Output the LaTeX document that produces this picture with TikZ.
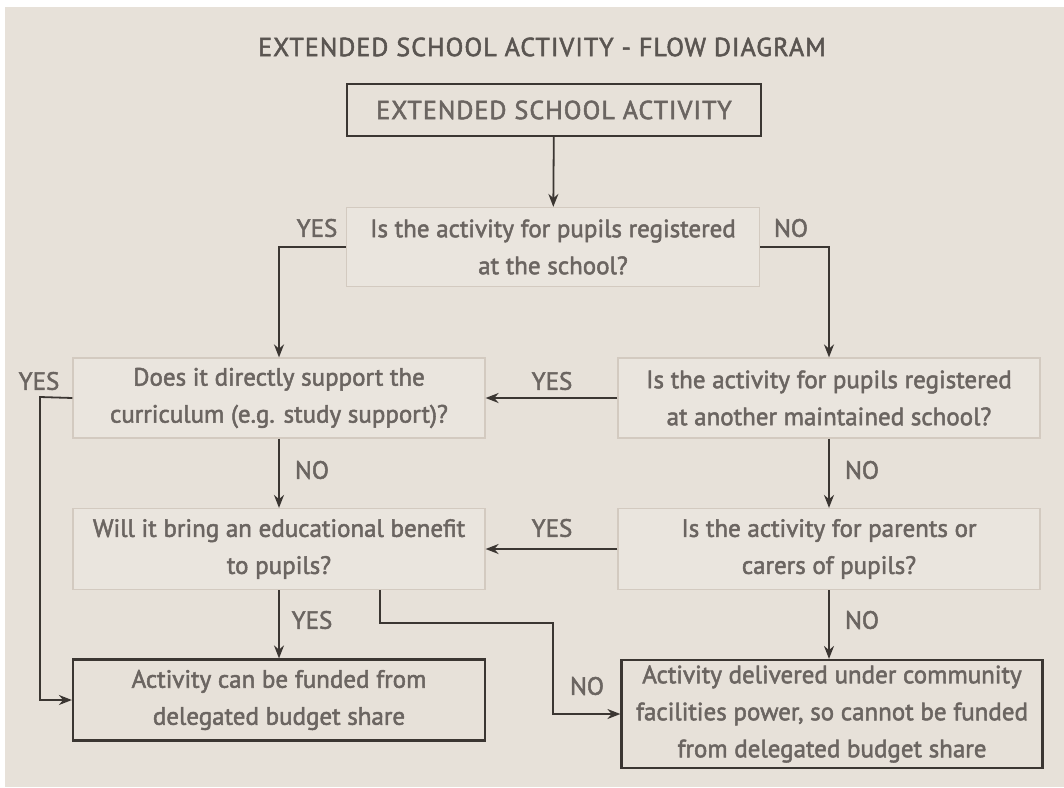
\documentclass[tikz,border=0pt]{standalone}
\usepackage{fontspec}
\setmainfont{PT Sans}[FakeBold=2]
\newfontfamily\capsfont{PT Sans}[FakeBold=2, LetterSpace=4]
\usetikzlibrary{arrows.meta}

\definecolor{paper}{HTML}{E7E1D9}
\definecolor{qfill}{HTML}{EAE5DE}
\definecolor{boxedge}{HTML}{D3CAC0}
\definecolor{linedark}{HTML}{3B3632}
\definecolor{textgray}{HTML}{6B6561}
\definecolor{titlegray}{HTML}{5A5551}

\newcommand{\flowfont}{\fontsize{25}{37}\selectfont}
\newcommand{\capsflow}{\capsfont\fontsize{26}{37}\selectfont}

\begin{document}
\begin{tikzpicture}[
    x=1pt, y=-1pt,
    heading/.style={font=\capsflow, text=titlegray},
    endbox/.style={rectangle, draw=linedark, line width=2.2pt, fill=paper, align=center, font=\flowfont, text=textgray, inner sep=0pt},
    question/.style={rectangle, draw=boxedge, line width=1.2pt, fill=qfill, align=center, font=\flowfont, text=textgray, inner sep=0pt},
    answer/.style={font=\flowfont, text=textgray},
    arrow/.style={-{Stealth[length=13pt, width=10pt]}, line width=1.8pt, draw=linedark}
]
% Page and background
\useasboundingbox (0,0) rectangle (1064,787);
\fill[white] (0,0) rectangle (1064,787);
\fill[paper] (5,7) rectangle (1064,787);

% Title
\node[heading] (title) at (542,47) {EXTENDED SCHOOL ACTIVITY - FLOW DIAGRAM};

% Start
\node[endbox, minimum width=414, minimum height=52, font=\capsflow] (start) at (554,110) {EXTENDED SCHOOL ACTIVITY};

% Questions
\node[question, minimum width=413, minimum height=79] (q1) at (553,247) {Is the activity for pupils registered\\at the school?};
\node[question, minimum width=412, minimum height=80] (q2) at (279,398) {Does it directly support the\\curriculum (e.g. study support)?};
\node[question, minimum width=422, minimum height=80] (q3) at (829,398) {Is the activity for pupils registered\\at another maintained school?};
\node[question, minimum width=412, minimum height=81] (q4) at (279,549) {Will it bring an educational benefit\\to pupils?};
\node[question, minimum width=422, minimum height=81] (q5) at (829,549) {Is the activity for parents or\\carers of pupils?};

% Outcomes
\node[endbox, minimum width=412, minimum height=81] (funded) at (279,700) {Activity can be funded from\\delegated budget share};
\node[endbox, minimum width=421, minimum height=108] (community) at (832,714) {Activity delivered under community\\facilities power, so cannot be funded\\from delegated budget share};

% Bend points
\coordinate (farleft) at (40,397);
\coordinate (drop) at (380,623);
\coordinate (turn) at (553,623);

% Arrows
\draw[arrow] (start) -- (q1);
\draw[arrow] (q1.west) -| (q2.north);
\draw[arrow] (q1.east) -| (q3.north);
\draw[arrow] (q3.west) -- (q2.east);
\draw[arrow] (q2.south) -- (q4.north);
\draw[arrow] (q3.south) -- (q5.north);
\draw[arrow] (q5.west) -- (q4.east);
\draw[arrow] (q4.south) -- (funded.north);
\draw[arrow] (q5.south) -- (community.north -| q5.south);
\draw[arrow] (q2.west) -- (farleft) |- (funded.west);
\draw[arrow] (q4.south -| drop) -- (drop) -- (turn) |- (community.west);

% Answers
\node[answer] (a1) at (317,228) {YES};
\node[answer] (a2) at (791,228) {NO};
\node[answer] (a3) at (39,381) {YES};
\node[answer] (a4) at (552,381) {YES};
\node[answer] (a5) at (312,470) {NO};
\node[answer] (a6) at (862,470) {NO};
\node[answer] (a7) at (552,528) {YES};
\node[answer] (a8) at (312,620) {YES};
\node[answer] (a9) at (862,620) {NO};
\node[answer] (a10) at (587,686) {NO};
\end{tikzpicture}
\end{document}
